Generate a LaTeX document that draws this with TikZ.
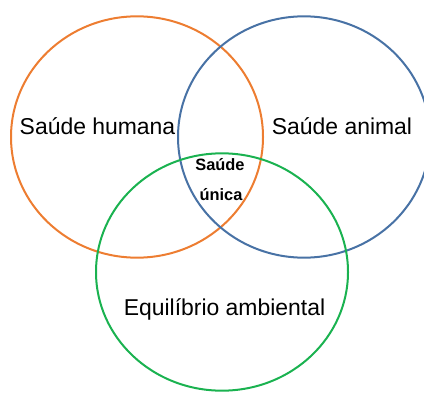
\documentclass[tikz,border=0pt]{standalone}
\usepackage{fontspec}
\setmainfont{Liberation Sans}
\usetikzlibrary{shapes.geometric, positioning}
\definecolor{orangeRing}{RGB}{237,125,49}
\definecolor{blueRing}{RGB}{72,114,165}
\definecolor{greenRing}{RGB}{26,178,80}

\begin{document}
\begin{tikzpicture}[
    x=0.75pt, y=-0.75pt,
    ring/.style={ellipse, draw, line width=1.5pt, minimum width=189pt, minimum height=181pt, inner sep=0pt},
    label/.style={font=\fontsize{17.2}{20}\selectfont, anchor=base},
    core/.style={font=\fontsize{12.3}{14}\selectfont\bfseries, anchor=base}
]
\useasboundingbox (0,0) rectangle (424,392);
\node[ring, draw=orangeRing] (humana) at (137,137) {};
\node[ring, draw=blueRing] (animal) at (304,137) {};
\node[ring, draw=greenRing, minimum height=178pt] (ambiente) at (222,272) {};

\node[label] (humanaTxt) at (97.5,135) {Saúde humana};
\node[label] (animalTxt) at (342,135) {Saúde animal};
\node[label] (ambienteTxt) at (224.5,315) {Equilíbrio ambiental};
\node[core] (unicaA) at (220,170) {Saúde};
\node[core] (unicaB) at (221,200) {única};
\end{tikzpicture}
\end{document}
